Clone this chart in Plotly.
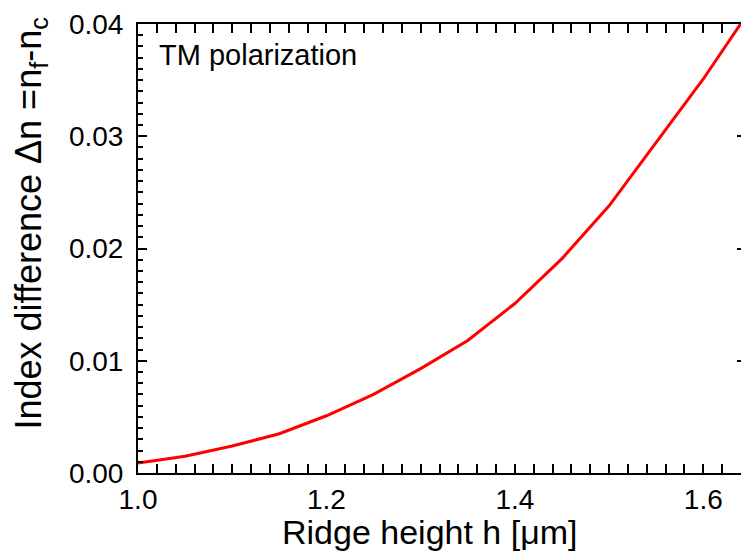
import plotly.graph_objects as go

# Ridge height (µm) and the corresponding index difference n_f - n_c (TM)
ridge_height = [1.00, 1.05, 1.10, 1.15, 1.20, 1.25, 1.30, 1.35, 1.40, 1.45, 1.50, 1.55, 1.60, 1.65]
index_diff = [0.0009, 0.0015, 0.0024, 0.0035, 0.0051, 0.0070, 0.0093, 0.0118,
              0.0151, 0.0191, 0.0238, 0.0295, 0.0351, 0.0413]

x_ticks = [1.0, 1.2, 1.4, 1.6]
y_ticks = [0.00, 0.01, 0.02, 0.03, 0.04]

FONT = "Liberation Sans, Arial, Helvetica, sans-serif"

fig = go.Figure()
fig.add_trace(go.Scatter(
    x=ridge_height, y=index_diff, mode="lines",
    line=dict(color="#ff0000", width=3),
    showlegend=False, cliponaxis=True,
))
# empty trace so the right-hand tick axis gets drawn
fig.add_trace(go.Scatter(x=[None], y=[None], yaxis="y2", showlegend=False, hoverinfo="skip"))

tick_style = dict(ticks="inside", tickwidth=2, tickcolor="black", showgrid=False, zeroline=False)

fig.update_xaxes(
    **tick_style,
    showline=True, linecolor="black", linewidth=2, mirror="allticks",
    ticklen=9,
    range=[1.0, 1.64],
    tickvals=x_ticks, ticktext=[f"{v:.1f}" for v in x_ticks],
    tickfont=dict(family=FONT, size=28, color="black"),
    minor=dict(ticks="inside", ticklen=5, tickwidth=2, tickcolor="black", dtick=0.02, tick0=1.0),
)
fig.update_yaxes(
    **tick_style,
    showline=True, linecolor="black", linewidth=2, mirror=False,
    ticklen=9,
    range=[0.0, 0.04],
    tickvals=y_ticks, ticktext=[f"{v:.2f}" for v in y_ticks],
    tickfont=dict(family=FONT, size=28, color="black"),
    ticklabelstandoff=7,
    minor=dict(ticks="inside", ticklen=5, tickwidth=2, tickcolor="black", dtick=0.001, tick0=0),
)

# right-hand ticks without a frame line (the frame runs off the right edge)
fig.update_layout(yaxis2=dict(
    overlaying="y", side="right", range=[0.0, 0.04], tickvals=y_ticks,
    showticklabels=False, showline=False, ticklen=4, **tick_style,
))

# axis titles as annotations
fig.add_annotation(
    text="Ridge height h [μm]", xref="paper", yref="paper",
    x=0.484, y=-0.131, xanchor="center", yanchor="middle", showarrow=False,
    font=dict(family=FONT, size=34, color="black"),
)
fig.add_annotation(
    text="Index difference Δn =n<sub>f</sub>-n<sub>c</sub>", xref="paper", yref="paper",
    x=-0.178, y=0.555, xanchor="center", yanchor="middle", textangle=-90, showarrow=False,
    font=dict(family=FONT, size=36, color="black"),
)

fig.add_annotation(
    text="TM polarization", xref="paper", yref="paper",
    x=0.032, y=0.93, xanchor="left", yanchor="middle", showarrow=False,
    font=dict(family=FONT, size=29, color="black"),
)

fig.update_layout(
    width=741, height=554,
    margin=dict(l=138, r=0, t=24, b=81, autoexpand=False),
    paper_bgcolor="white", plot_bgcolor="white",
)

fig.write_html("out.html")
